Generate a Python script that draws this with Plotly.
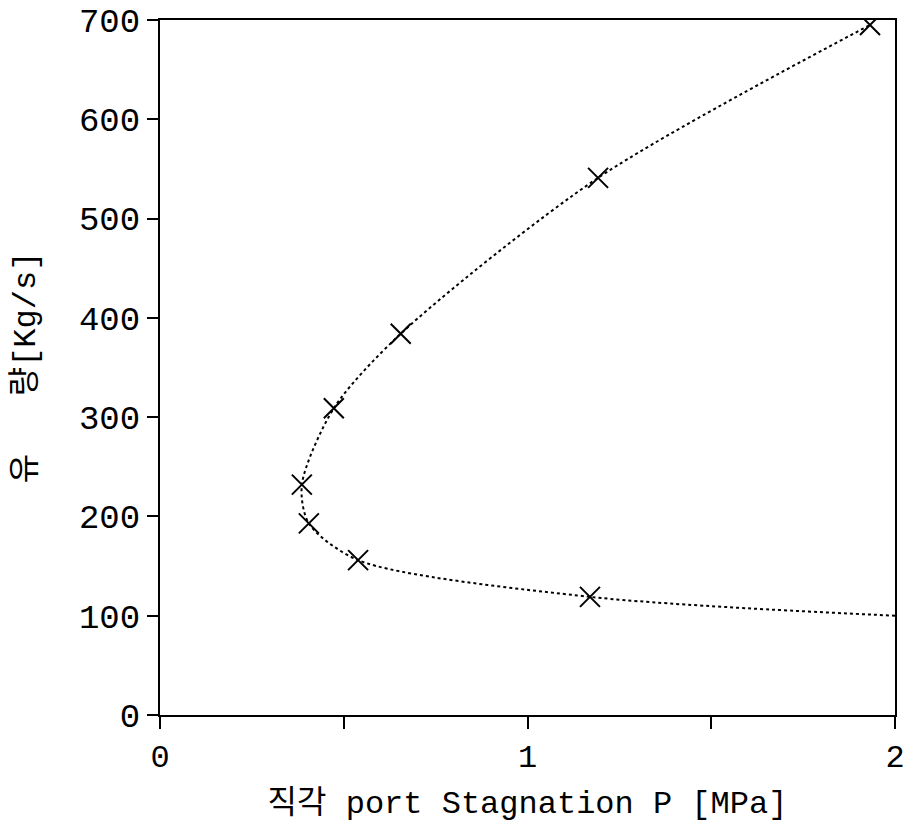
import plotly.graph_objects as go

# measured points (x marks)
pressure_mpa = [1.170, 0.539, 0.405, 0.386, 0.473, 0.655, 1.192, 1.932]
mass_flow = [119, 156, 193, 232, 309, 384, 541, 695]

# dotted curve (includes extension to right edge)
curve_p = [2.0, 1.170, 0.539, 0.405, 0.386, 0.473, 0.655, 1.192, 1.932]
curve_m = [100, 119, 156, 193, 232, 309, 384, 541, 695]

x_tickvals = [0, 0.5, 1, 1.5, 2]
x_ticktext = ["0", "", "1", "", "2"]
y_tickvals = [0, 100, 200, 300, 400, 500, 600, 700]
y_ticktext = ["0", "100", "200", "300", "400", "500", "600", "700"]

FONT = "Liberation Mono, Noto Sans CJK KR, monospace"

fig = go.Figure()
fig.add_trace(go.Scatter(
    x=curve_p, y=curve_m, mode="lines",
    line=dict(color="black", width=2, dash="dot", shape="spline", smoothing=0.8),
    showlegend=False, hoverinfo="skip"))
fig.add_trace(go.Scatter(
    x=pressure_mpa, y=mass_flow, mode="markers",
    marker=dict(symbol="x-thin", size=20, line=dict(color="black", width=2)),
    showlegend=False))

fig.update_layout(
    width=904, height=831,
    margin=dict(l=160, r=9, t=20, b=116),
    paper_bgcolor="white", plot_bgcolor="white",
    font=dict(family=FONT, color="black"),
    xaxis=dict(
        range=[0, 2], tickvals=x_tickvals, ticktext=x_ticktext,
        automargin=False, ticklabeloverflow="allow",
        showgrid=False, zeroline=False,
        showline=True, linecolor="black", linewidth=2, mirror=True,
        ticks="outside", ticklen=12, tickwidth=2, tickcolor="black",
        tickfont=dict(family=FONT, size=32),
        title=dict(text="직각 port Stagnation P [MPa]",
                   font=dict(family=FONT, size=32), standoff=14),
    ),
    yaxis=dict(
        range=[0, 700], tickvals=y_tickvals, ticktext=y_ticktext,
        automargin=False, ticklabeloverflow="allow",
        showgrid=False, zeroline=False,
        showline=True, linecolor="black", linewidth=2, mirror=True,
        ticks="outside", ticklen=11, tickwidth=2, tickcolor="black",
        tickfont=dict(family=FONT, size=34),
        title=dict(text="유   량[Kg/s]",
                   font=dict(family=FONT, size=32), standoff=34),
    ),
)

fig.write_html("out.html")
